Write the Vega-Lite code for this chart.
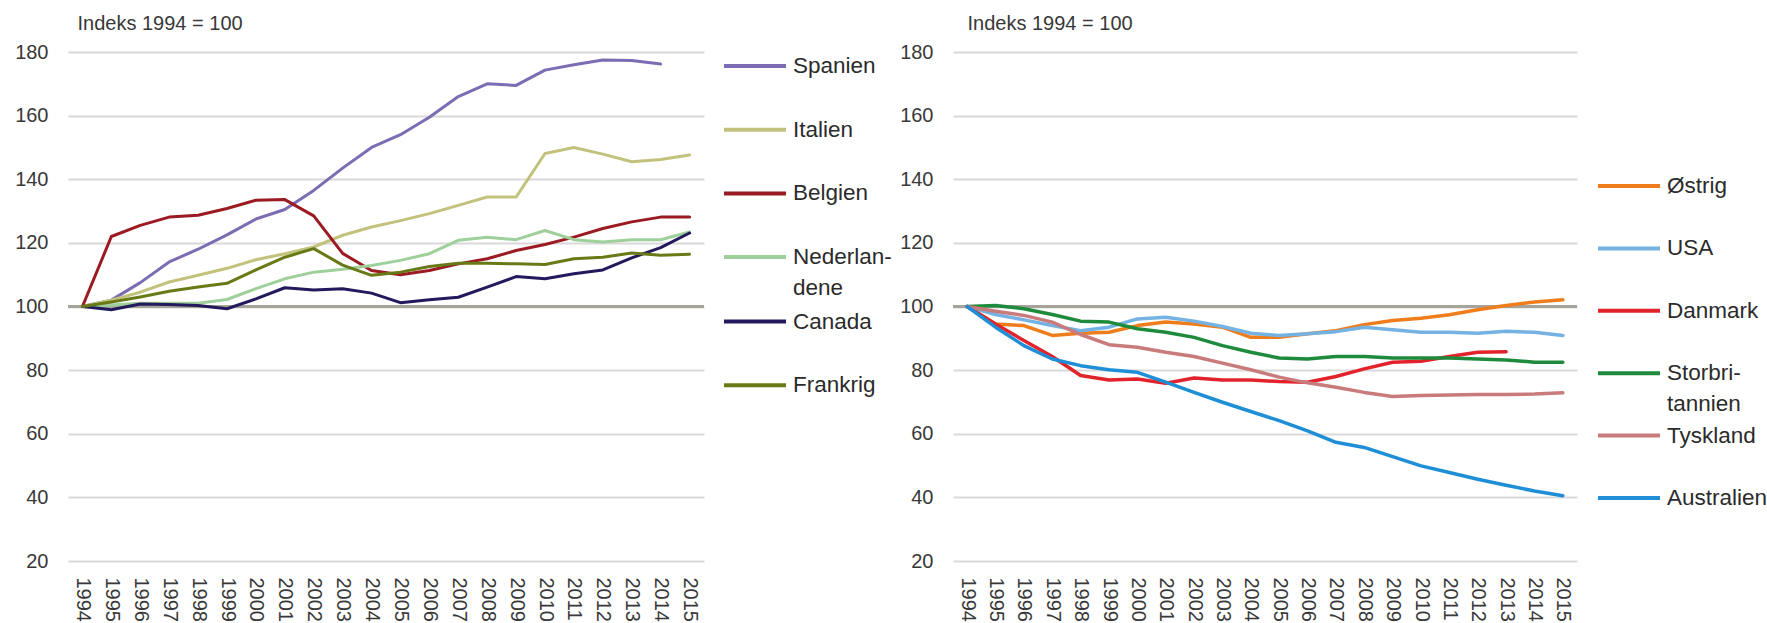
{
  "$schema": "https://vega.github.io/schema/vega-lite/v6.json",
  "background": "white",
  "padding": {"left": 14, "top": 13, "right": 5, "bottom": 0},
  "bounds": "flush",
  "spacing": 249,
  "config": {
    "view": {"stroke": null},
    "axis": {
      "labelFont": "Liberation Sans",
      "titleFont": "Liberation Sans",
      "labelColor": "#383838",
      "titleColor": "#383838",
      "gridColor": "#d9d9d9",
      "gridWidth": 2,
      "domain": false,
      "ticks": false,
      "tickSize": 0
    },
    "legend": {"labelFont": "Liberation Sans", "labelColor": "#2b2b2b"}
  },
  "datasets": {
    "venstre": [
      {"aar": "1994", "Spanien": 100, "Italien": 100, "Belgien": 100, "Nederlandene": 100, "Canada": 100, "Frankrig": 100},
      {"aar": "1995", "Spanien": 102, "Italien": 102, "Belgien": 122, "Nederlandene": 100.5, "Canada": 99, "Frankrig": 101.4},
      {"aar": "1996", "Spanien": 107.5, "Italien": 104.5, "Belgien": 125.5, "Nederlandene": 101, "Canada": 100.8, "Frankrig": 103},
      {"aar": "1997", "Spanien": 114, "Italien": 107.7, "Belgien": 128.1, "Nederlandene": 101, "Canada": 100.6, "Frankrig": 104.8},
      {"aar": "1998", "Spanien": 118, "Italien": 109.8, "Belgien": 128.7, "Nederlandene": 101, "Canada": 100.3, "Frankrig": 106.1},
      {"aar": "1999", "Spanien": 122.5, "Italien": 112, "Belgien": 130.8, "Nederlandene": 102.2, "Canada": 99.3, "Frankrig": 107.3},
      {"aar": "2000", "Spanien": 127.5, "Italien": 114.7, "Belgien": 133.4, "Nederlandene": 105.6, "Canada": 102.4, "Frankrig": 111.5},
      {"aar": "2001", "Spanien": 130.5, "Italien": 116.6, "Belgien": 133.6, "Nederlandene": 108.7, "Canada": 105.9, "Frankrig": 115.5},
      {"aar": "2002", "Spanien": 136.5, "Italien": 118.7, "Belgien": 128.5, "Nederlandene": 110.8, "Canada": 105.2, "Frankrig": 118.2},
      {"aar": "2003", "Spanien": 143.5, "Italien": 122.4, "Belgien": 116.7, "Nederlandene": 111.7, "Canada": 105.6, "Frankrig": 113},
      {"aar": "2004", "Spanien": 150, "Italien": 125, "Belgien": 111.3, "Nederlandene": 112.9, "Canada": 104.2, "Frankrig": 109.8},
      {"aar": "2005", "Spanien": 154, "Italien": 127, "Belgien": 110, "Nederlandene": 114.5, "Canada": 101.2, "Frankrig": 110.8},
      {"aar": "2006", "Spanien": 159.5, "Italien": 129.2, "Belgien": 111.3, "Nederlandene": 116.6, "Canada": 102.1, "Frankrig": 112.6},
      {"aar": "2007", "Spanien": 166, "Italien": 131.8, "Belgien": 113.4, "Nederlandene": 120.8, "Canada": 102.9, "Frankrig": 113.6},
      {"aar": "2008", "Spanien": 170, "Italien": 134.4, "Belgien": 115, "Nederlandene": 121.8, "Canada": 106.1, "Frankrig": 113.6},
      {"aar": "2009", "Spanien": 169.5, "Italien": 134.4, "Belgien": 117.6, "Nederlandene": 121, "Canada": 109.4, "Frankrig": 113.4},
      {"aar": "2010", "Spanien": 174.3, "Italien": 148.1, "Belgien": 119.5, "Nederlandene": 123.9, "Canada": 108.7, "Frankrig": 113.2},
      {"aar": "2011", "Spanien": 176, "Italien": 150, "Belgien": 121.8, "Nederlandene": 121, "Canada": 110.3, "Frankrig": 115},
      {"aar": "2012", "Spanien": 177.5, "Italien": 147.9, "Belgien": 124.5, "Nederlandene": 120.3, "Canada": 111.5, "Frankrig": 115.5},
      {"aar": "2013", "Spanien": 177.3, "Italien": 145.5, "Belgien": 126.6, "Nederlandene": 121, "Canada": 115.3, "Frankrig": 116.8},
      {"aar": "2014", "Spanien": 176.2, "Italien": 146.2, "Belgien": 128.1, "Nederlandene": 121, "Canada": 118.5, "Frankrig": 116.1},
      {"aar": "2015", "Italien": 147.6, "Belgien": 128.1, "Nederlandene": 123.4, "Canada": 123.1, "Frankrig": 116.4}
    ],
    "hoejre": [
      {"aar": "1994", "Østrig": 100, "USA": 100, "Danmark": 100, "Storbritannien": 100, "Tyskland": 100, "Australien": 100},
      {"aar": "1995", "Østrig": 94.5, "USA": 97.5, "Danmark": 94.5, "Storbritannien": 100.3, "Tyskland": 98.5, "Australien": 93.5},
      {"aar": "1996", "Østrig": 94, "USA": 95.8, "Danmark": 89.3, "Storbritannien": 99.3, "Tyskland": 97.2, "Australien": 87.7},
      {"aar": "1997", "Østrig": 90.9, "USA": 94, "Danmark": 84.3, "Storbritannien": 97.5, "Tyskland": 95.1, "Australien": 83.5},
      {"aar": "1998", "Østrig": 91.6, "USA": 92.4, "Danmark": 78.3, "Storbritannien": 95.4, "Tyskland": 91.2, "Australien": 81.4},
      {"aar": "1999", "Østrig": 91.9, "USA": 93.5, "Danmark": 76.9, "Storbritannien": 95.1, "Tyskland": 88, "Australien": 80.1},
      {"aar": "2000", "Østrig": 94, "USA": 96.1, "Danmark": 77.2, "Storbritannien": 93, "Tyskland": 87.2, "Australien": 79.3},
      {"aar": "2001", "Østrig": 95.1, "USA": 96.6, "Danmark": 75.9, "Storbritannien": 91.9, "Tyskland": 85.6, "Australien": 76.2},
      {"aar": "2002", "Østrig": 94.5, "USA": 95.4, "Danmark": 77.5, "Storbritannien": 90.3, "Tyskland": 84.3, "Australien": 73},
      {"aar": "2003", "Østrig": 93.5, "USA": 93.7, "Danmark": 76.9, "Storbritannien": 87.7, "Tyskland": 82.2, "Australien": 69.9},
      {"aar": "2004", "Østrig": 90.3, "USA": 91.6, "Danmark": 76.9, "Storbritannien": 85.6, "Tyskland": 80.1, "Australien": 67},
      {"aar": "2005", "Østrig": 90.3, "USA": 90.9, "Danmark": 76.4, "Storbritannien": 83.8, "Tyskland": 77.8, "Australien": 64.1},
      {"aar": "2006", "Østrig": 91.4, "USA": 91.4, "Danmark": 76.2, "Storbritannien": 83.5, "Tyskland": 76, "Australien": 60.9},
      {"aar": "2007", "Østrig": 92.4, "USA": 92.1, "Danmark": 78, "Storbritannien": 84.3, "Tyskland": 74.6, "Australien": 57.3},
      {"aar": "2008", "Østrig": 94.3, "USA": 93.5, "Danmark": 80.4, "Storbritannien": 84.3, "Tyskland": 73, "Australien": 55.7},
      {"aar": "2009", "Østrig": 95.6, "USA": 92.7, "Danmark": 82.5, "Storbritannien": 83.8, "Tyskland": 71.7, "Australien": 52.8},
      {"aar": "2010", "Østrig": 96.3, "USA": 91.9, "Danmark": 82.8, "Storbritannien": 83.8, "Tyskland": 72, "Australien": 49.9},
      {"aar": "2011", "Østrig": 97.4, "USA": 91.9, "Danmark": 84.3, "Storbritannien": 83.8, "Tyskland": 72.2, "Australien": 47.8},
      {"aar": "2012", "Østrig": 99, "USA": 91.6, "Danmark": 85.6, "Storbritannien": 83.5, "Tyskland": 72.3, "Australien": 45.7},
      {"aar": "2013", "Østrig": 100.3, "USA": 92.2, "Danmark": 85.8, "Storbritannien": 83.2, "Tyskland": 72.3, "Australien": 43.8},
      {"aar": "2014", "Østrig": 101.4, "USA": 91.9, "Storbritannien": 82.5, "Tyskland": 72.5, "Australien": 42},
      {"aar": "2015", "Østrig": 102.1, "USA": 90.9, "Storbritannien": 82.5, "Tyskland": 72.9, "Australien": 40.5}
    ]
  },
  "hconcat": [
    {
      "width": 636,
      "height": 509,
      "data": {"name": "venstre"},
      "transform": [
        {"fold": ["Spanien", "Italien", "Belgien", "Nederlandene", "Canada", "Frankrig"], "as": ["land", "v"]}
      ],
      "encoding": {
        "x": {
          "field": "aar", "type": "ordinal",
          "scale": {"type": "point", "padding": 0.5},
          "axis": {"title": null, "labelAngle": 90, "labelPadding": 16, "labelFontSize": 20, "grid": false, "labelOverlap": false}
        },
        "y": {
          "field": "v", "type": "quantitative",
          "scale": {"domain": [20, 180], "nice": false},
          "axis": {
            "values": [20, 40, 60, 80, 100, 120, 140, 160, 180], "grid": true,
            "labelFontSize": 20, "labelPadding": 20,
            "title": "Indeks 1994 = 100", "titleAngle": 0, "titleAlign": "left", "titleBaseline": "middle",
            "titleFontSize": 20, "titleFontWeight": "normal", "titleX": 9, "titleY": -29
          }
        }
      },
      "layer": [
        {
          "mark": {"type": "rule", "color": "#a6a39a", "strokeWidth": 2.5},
          "encoding": {"x": null, "y": {"datum": 100, "type": "quantitative"}}
        },
        {
          "transform": [{"filter": {"field": "land", "oneOf": ["Spanien", "Italien", "Belgien", "Nederlandene"]}}],
          "mark": {"type": "line", "strokeWidth": 3, "strokeJoin": "round", "strokeCap": "round"},
          "encoding": {
            "color": {
              "field": "land", "type": "nominal",
              "scale": {
                "domain": ["Spanien", "Italien", "Belgien", "Nederlandene"],
                "range": ["#7b6cb3", "#c2c27c", "#9c1a22", "#9fd09c"]
              },
              "legend": {
                "title": null, "orient": "none", "legendX": 654, "legendY": -19,
                "symbolType": "stroke", "symbolSize": 3844, "symbolStrokeWidth": 4,
                "labelFontSize": 22.5, "labelOffset": 5, "rowPadding": 18.7, "labelLimit": 300,
                "labelExpr": "datum.label == 'Nederlandene' ? ['Nederlan-', 'dene'] : datum.label",
                "encode": {"labels": {"update": {"lineHeight": {"value": 31}}}}
              }
            }
          }
        },
        {
          "transform": [{"filter": {"field": "land", "oneOf": ["Canada", "Frankrig"]}}],
          "mark": {"type": "line", "strokeWidth": 3, "strokeJoin": "round", "strokeCap": "round"},
          "encoding": {
            "stroke": {
              "field": "land", "type": "nominal",
              "scale": {"domain": ["Canada", "Frankrig"], "range": ["#221a5c", "#687a16"]},
              "legend": {
                "title": null, "orient": "none", "legendX": 654, "legendY": 236.6,
                "symbolType": "stroke", "symbolSize": 3844, "symbolStrokeWidth": 4,
                "labelFontSize": 22.5, "labelOffset": 5, "rowPadding": 18.7, "labelLimit": 300
              }
            }
          }
        }
      ]
    },
    {
      "width": 624,
      "height": 509,
      "data": {"name": "hoejre"},
      "transform": [
        {"fold": ["Østrig", "USA", "Danmark", "Storbritannien", "Tyskland", "Australien"], "as": ["land", "v"]}
      ],
      "encoding": {
        "x": {
          "field": "aar", "type": "ordinal",
          "scale": {"type": "point", "padding": 0.5},
          "axis": {"title": null, "labelAngle": 90, "labelPadding": 16, "labelFontSize": 20, "grid": false, "labelOverlap": false}
        },
        "y": {
          "field": "v", "type": "quantitative",
          "scale": {"domain": [20, 180], "nice": false},
          "axis": {
            "values": [20, 40, 60, 80, 100, 120, 140, 160, 180], "grid": true,
            "labelFontSize": 20, "labelPadding": 20,
            "title": "Indeks 1994 = 100", "titleAngle": 0, "titleAlign": "left", "titleBaseline": "middle",
            "titleFontSize": 20, "titleFontWeight": "normal", "titleX": 14, "titleY": -29
          }
        }
      },
      "layer": [
        {
          "mark": {"type": "rule", "color": "#a6a39a", "strokeWidth": 2.5},
          "encoding": {"x": null, "y": {"datum": 100, "type": "quantitative"}}
        },
        {
          "transform": [{"filter": {"field": "land", "oneOf": ["Østrig", "USA", "Danmark", "Storbritannien"]}}],
          "mark": {"type": "line", "strokeWidth": 3.5, "strokeJoin": "round", "strokeCap": "round"},
          "encoding": {
            "color": {
              "field": "land", "type": "nominal",
              "scale": {
                "domain": ["Østrig", "USA", "Danmark", "Storbritannien"],
                "range": ["#ef7d1c", "#73b2e2", "#e2232b", "#1e8b3c"]
              },
              "legend": {
                "title": null, "orient": "none", "legendX": 643, "legendY": 101,
                "symbolType": "stroke", "symbolSize": 3844, "symbolStrokeWidth": 4,
                "labelFontSize": 22.5, "labelOffset": 5, "rowPadding": 17.4, "labelLimit": 300,
                "labelExpr": "datum.label == 'Storbritannien' ? ['Storbri-', 'tannien'] : datum.label",
                "encode": {"labels": {"update": {"lineHeight": {"value": 31}}}}
              }
            }
          }
        },
        {
          "transform": [{"filter": {"field": "land", "oneOf": ["Tyskland", "Australien"]}}],
          "mark": {"type": "line", "strokeWidth": 3.5, "strokeJoin": "round", "strokeCap": "round"},
          "encoding": {
            "stroke": {
              "field": "land", "type": "nominal",
              "scale": {"domain": ["Tyskland", "Australien"], "range": ["#c97a7a", "#1e8fd6"]},
              "legend": {
                "title": null, "orient": "none", "legendX": 643, "legendY": 350.6,
                "symbolType": "stroke", "symbolSize": 3844, "symbolStrokeWidth": 4,
                "labelFontSize": 22.5, "labelOffset": 5, "rowPadding": 17.4, "labelLimit": 300
              }
            }
          }
        }
      ]
    }
  ],
  "resolve": {"scale": {"color": "independent", "stroke": "independent"}}
}
